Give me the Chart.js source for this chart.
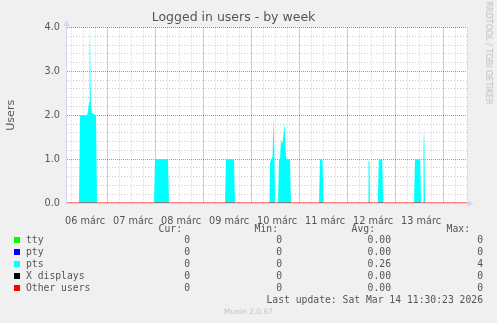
<!DOCTYPE html>
<html><head><meta charset="utf-8">
<script src="https://cdn.jsdelivr.net/npm/chart.js@4/dist/chart.umd.min.js"></script>
<style>
html,body{margin:0;padding:0;background:#f0f0f0;}
#wrap{position:relative;width:497px;height:323px;overflow:hidden;background:#f0f0f0;}
canvas{position:absolute;left:0;top:0;}
.t{position:absolute;white-space:pre;font-family:"DejaVu Sans Mono",monospace;font-size:9.72px;color:#555;line-height:12px;}
.sq{position:absolute;width:6px;height:6px;}
.wm{position:absolute;white-space:pre;font-family:"DejaVu Sans",sans-serif;line-height:10px;}
</style></head><body>
<div id="wrap"><canvas id="c" width="497" height="323"></canvas></div>
<script>
// ---- data (hours since 06 márc 00:00) ----
const dayLabels = ['06 márc','07 márc','08 márc','09 márc','10 márc','11 márc','12 márc','13 márc'];
const ptsHours = [4, 10, 10.5, 14, 14.5, 15, 15.3, 15.5, 15.75, 16, 16.5, 18.5, 19,
  47.5, 48, 54.5, 55,
  83, 83.5, 87.5, 88,
  105.25, 105.5, 106, 106.75, 107.25, 107.75, 108,
  109.5, 110, 110.5, 111, 111.5, 112, 112.75, 113.5, 114, 115.5, 116,
  130, 130.5, 131.75, 132.25,
  154.5, 154.75, 155.25, 155.5,
  159.4, 159.9, 161.6, 162.1,
  177.5, 178, 180.625, 181,
  182.0, 182.25, 182.5, 182.75, 183.0,
  204];
const ptsValues = [0, 0, 2, 2, 2.1, 2.3, 3.5, 4, 2.8, 2.2, 2.05, 2, 0,
  0, 1, 1, 0,
  0, 1, 1, 0,
  0, 0.9, 1.0, 1.05, 1.95, 1.0, 0,
  0, 1.0, 1.0, 1.45, 1.35, 1.45, 1.82, 1.05, 1.0, 1.0, 0,
  0, 1, 1, 0,
  0, 0.95, 0.95, 0,
  0, 1, 1, 0,
  0, 1, 1, 0,
  0, 1.2, 1.75, 1.2, 0,
  0];
const otherHours = [4, 204];
const otherValues = [0, 0];
const yMin = 0, yMax = 4;
const xMin = 4, xMax = 204;

const legendHeaders = ['Cur:', 'Min:', 'Avg:', 'Max:'];
const seriesNames = ['tty', 'pty', 'pts', 'X displays', 'Other users'];
const curValues = ['0', '0', '0', '0', '0'];
const minValues = ['0', '0', '0', '0', '0'];
const avgValues = ['0.00', '0.00', '0.26', '0.00', '0.00'];
const maxValues = ['0', '0', '4', '0', '0'];
const lastUpdate = 'Last update: Sat Mar 14 11:30:23 2026';
const titleText = 'Logged in users - by week';
const yTitle = 'Users';
const watermark = 'Munin 2.0.67';
const sideText = 'RRDTOOL / TOBI OETIKER';

// ---- styles ----
const seriesColors = ['#00ff00', '#0000ff', '#00ffff', '#000000', '#ff0000'];
const FONT = '"DejaVu Sans", sans-serif';
const TXT = '#555555';
const MGRID = 'rgba(255,0,0,0.55)';
const GRID = 'rgba(0,0,0,0.2)';
const AXIS = '#CFD6F8';

const bgPlugin = {
  id: 'bg',
  beforeDraw(chart) {
    const {ctx, chartArea: a} = chart;
    ctx.save();
    ctx.fillStyle = '#ffffff';
    ctx.fillRect(a.left, a.top, a.right - a.left, a.bottom - a.top);
    ctx.restore();
  },
  beforeDatasetsDraw(chart) {
    const {ctx, chartArea: a} = chart;
    ctx.save();
    ctx.strokeStyle = AXIS; ctx.fillStyle = AXIS; ctx.lineWidth = 1;
    ctx.beginPath();
    ctx.moveTo(a.left - 0.5, a.bottom + 0.5); ctx.lineTo(a.left - 0.5, a.top - 4);
    ctx.moveTo(a.left - 1, a.bottom + 0.5); ctx.lineTo(a.right + 1, a.bottom + 0.5);
    ctx.stroke();
    ctx.beginPath();
    ctx.moveTo(a.left - 0.5, a.top - 7.5); ctx.lineTo(a.left - 3.5, a.top - 1.5); ctx.lineTo(a.left + 2.5, a.top - 1.5); ctx.closePath();
    ctx.moveTo(a.right + 6.5, a.bottom + 0.5); ctx.lineTo(a.right + 0.5, a.bottom - 2.5); ctx.lineTo(a.right + 0.5, a.bottom + 3.5); ctx.closePath();
    ctx.fill();
    ctx.restore();
  }
};

const minorHours = [], majorHours = [];
for (let h = Math.ceil(xMin / 6) * 6; h <= xMax; h += 6) (h % 24 === 0 ? majorHours : minorHours).push(h);
const minorFifths = [], majorUnits = [];
for (let i = yMin * 5; i <= yMax * 5; i++) (i % 5 === 0 ? majorUnits : minorFifths).push(i / 5);

const hiddenAxis = (pos, ticks, lineColor, dash, fitProp) => ({
  type: 'linear', position: pos,
  min: pos === 'bottom' ? xMin : yMin, max: pos === 'bottom' ? xMax : yMax,
  afterBuildTicks: s => { s.ticks = ticks.map(v => ({ value: v })); },
  afterFit: s => { s[fitProp] = 0; },
  ticks: { display: false },
  grid: { drawTicks: false, lineWidth: 1, color: lineColor },
  border: { display: false, dash: dash }
});

new Chart(document.getElementById('c'), {
  type: 'line',
  data: {
    datasets: [
      { label: 'Other users', data: otherHours.map((h, i) => ({x: h, y: otherValues[i]})),
        borderColor: seriesColors[4], borderWidth: 1, pointRadius: 0, fill: false, tension: 0, order: 1 },
      { label: 'pts', data: ptsHours.map((h, i) => ({x: h, y: ptsValues[i]})),
        fill: 'origin', backgroundColor: seriesColors[2], borderWidth: 0, borderColor: 'rgba(0,0,0,0)',
        pointRadius: 0, tension: 0, order: 2 }
    ]
  },
  options: {
    responsive: false, animation: false, devicePixelRatio: 1,
    layout: { padding: { left: 0, right: 30, top: 0, bottom: 0 } },
    plugins: {
      legend: { display: false }, tooltip: { enabled: false },
      title: { display: true, text: titleText, color: TXT,
        font: { family: FONT, size: 12.5, weight: 'normal' }, padding: { top: 10, bottom: 2.6 } }
    },
    scales: {
      x: {
        type: 'linear', min: xMin, max: xMax, position: 'bottom',
        afterBuildTicks: s => { s.ticks = dayLabels.map((l, i) => ({ value: 13 + 24 * i })); },
        afterFit: s => { s.height = 120; },
        ticks: { autoSkip: false, maxRotation: 0, padding: 5, color: TXT,
          font: { family: FONT, size: 9.72 }, callback: (v, i) => dayLabels[i] },
        grid: { display: false }, border: { display: false }
      },
      xMinor: hiddenAxis('bottom', minorHours, GRID, [1, 2], 'height'),
      xMajor: hiddenAxis('bottom', majorHours, MGRID, [1, 1], 'height'),
      yMinor: hiddenAxis('left', minorFifths, GRID, [1, 2], 'width'),
      y: {
        type: 'linear', min: yMin, max: yMax,
        afterBuildTicks: s => { s.ticks = majorUnits.map(v => ({ value: v })); },
        afterFit: s => { s.width = 67; },
        ticks: { autoSkip: false, padding: 7, color: TXT, font: { family: FONT, size: 9.72 },
          callback: v => v.toFixed(1) },
        grid: { drawTicks: false, lineWidth: 1, color: MGRID },
        border: { display: false, dash: [1, 1] },
        title: { display: true, text: yTitle, color: TXT, font: { family: FONT, size: 11.1 }, padding: { top: 4, bottom: 0 } }
      }
    }
  },
  plugins: [bgPlugin]
});

// ---- legend table (real HTML text) ----
const wrap = document.getElementById('wrap');
const W = 497;
function addText(txt, y, opts) {
  const d = document.createElement('div');
  d.className = 't';
  d.textContent = txt;
  d.style.top = (y - 5.8) + 'px';
  if (opts.left !== undefined) d.style.left = opts.left + 'px';
  if (opts.right !== undefined) { d.style.right = (W - opts.right) + 'px'; d.style.textAlign = 'right'; }
  wrap.appendChild(d);
}
const rowY = i => 228.3 + 11.9 * i;
const headerRight = [182, 278, 375, 470];
const valueRight = [190, 282, 391, 483];
legendHeaders.forEach((h, j) => addText(h, rowY(0), { right: headerRight[j] }));
seriesNames.forEach((n, i) => {
  const y = rowY(i + 1);
  const sq = document.createElement('div');
  sq.className = 'sq';
  sq.style.left = '14px'; sq.style.top = (y - 3) + 'px'; sq.style.background = seriesColors[i];
  wrap.appendChild(sq);
  addText(n, y, { left: 26 });
  [curValues, minValues, avgValues, maxValues].forEach((arr, j) => addText(arr[i], y, { right: valueRight[j] }));
});
addText(lastUpdate, rowY(6), { right: 483 });

const wm = document.createElement('div');
wm.className = 'wm'; wm.textContent = watermark;
wm.style.fontSize = '7.5px'; wm.style.color = '#c4c4c4';
wm.style.left = '248.5px'; wm.style.top = '311.7px'; wm.style.transform = 'translate(-50%,-50%)';
wrap.appendChild(wm);

const side = document.createElement('div');
side.className = 'wm'; side.textContent = sideText;
side.style.fontSize = '8px'; side.style.color = '#bdbdbd';
side.style.left = '488px'; side.style.top = '53px'; side.style.transform = 'translate(-50%,-50%) rotate(90deg)';
wrap.appendChild(side);
</script>
</body></html>
